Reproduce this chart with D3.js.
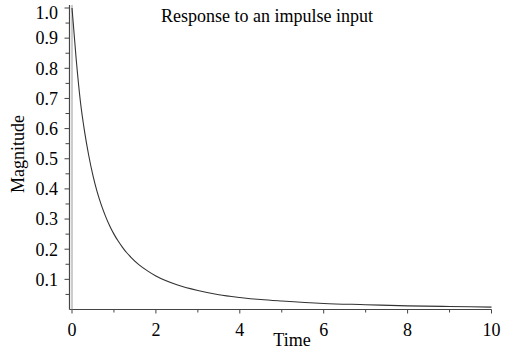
<!DOCTYPE html>
<html>
<head>
<meta charset="utf-8">
<script src="https://cdn.jsdelivr.net/npm/d3@7"></script>
<style>
  html, body { margin: 0; padding: 0; background: #fff; }
  svg text { font-family: "Liberation Serif", "Times New Roman", serif; fill: #000; }
</style>
</head>
<body>
<svg id="chart" width="505" height="351"></svg>
<script>
// Impulse response samples: time and magnitude
const times = [0, 0.1, 0.2, 0.3, 0.4, 0.5, 0.6, 0.7, 0.8, 0.9, 1.0, 1.1, 1.2, 1.3, 1.4, 1.6, 1.8, 2.0,
               2.5, 3.0, 3.5, 4.0, 4.5, 5.0, 6.0, 7.0, 8.0, 9.0, 10.0];
const magnitudes = [1.00, 0.83, 0.69, 0.59, 0.51, 0.444, 0.39, 0.346, 0.309, 0.277, 0.25, 0.227, 0.207, 0.189, 0.174, 0.148, 0.128, 0.111,
                    0.082, 0.063, 0.049, 0.040, 0.033, 0.028, 0.020, 0.016, 0.012, 0.010, 0.008];

const xTickValues = [0, 2, 4, 6, 8, 10];
const xMinorTicks = [1, 3, 5, 7, 9];
const yTickValues = [0.1, 0.2, 0.3, 0.4, 0.5, 0.6, 0.7, 0.8, 0.9, 1.0];
const yMinorTicks = [0.05, 0.15, 0.25, 0.35, 0.45, 0.55, 0.65, 0.75, 0.85, 0.95];

const titleText = "Response to an impulse input";
const xLabel = "Time";
const yLabel = "Magnitude";

const svg = d3.select("#chart");

const x = d3.scaleLinear().domain([0, 10]).range([72, 491.5]);
const y = d3.scaleLinear().domain([0, 1]).range([309.5, 8]);

const axisColor = "#444";
const axisX0 = 69.5;

// x axis
const gx = svg.append("g").attr("transform", `translate(0,${y(0)})`);
gx.append("line").attr("x1", axisX0).attr("x2", x(10)).attr("y1", 0).attr("y2", 0)
  .attr("stroke", axisColor).attr("stroke-width", 1.2);
gx.selectAll(".maj").data(xTickValues).join("line")
  .attr("x1", d => x(d)).attr("x2", d => x(d)).attr("y1", 0).attr("y2", 4)
  .attr("stroke", axisColor);
gx.selectAll(".min").data(xMinorTicks).join("line")
  .attr("x1", d => x(d)).attr("x2", d => x(d)).attr("y1", 0).attr("y2", 3)
  .attr("stroke", axisColor);
gx.selectAll("text").data(xTickValues).join("text")
  .attr("x", d => x(d)).attr("y", 26)
  .attr("text-anchor", "middle").attr("font-size", 18)
  .text(d => d3.format("d")(d));

// y axis
const gy = svg.append("g");
gy.append("line").attr("x1", axisX0).attr("x2", axisX0).attr("y1", y(0)).attr("y2", 5)
  .attr("stroke", axisColor).attr("stroke-width", 1.2);
gy.append("line").attr("x1", x(0)).attr("x2", x(0)).attr("y1", y(0)).attr("y2", 5)
  .attr("stroke", "#999").attr("stroke-width", 1);
gy.selectAll(".maj").data(yTickValues).join("line")
  .attr("x1", axisX0 - 5).attr("x2", axisX0).attr("y1", d => y(d)).attr("y2", d => y(d))
  .attr("stroke", axisColor);
gy.selectAll(".min").data(yMinorTicks).join("line")
  .attr("x1", axisX0 - 4).attr("x2", axisX0).attr("y1", d => y(d)).attr("y2", d => y(d))
  .attr("stroke", axisColor);
// top label is kept inside the drawing area
gy.selectAll("text").data(yTickValues).join("text")
  .attr("x", 58).attr("y", d => Math.max(y(d), 13)).attr("dy", "0.35em")
  .attr("text-anchor", "end").attr("font-size", 18)
  .text(d => d3.format(".1f")(d));

// response curve
const line = d3.line().x((d, i) => x(times[i])).y(d => y(d)).curve(d3.curveMonotoneX);
svg.append("path").datum(magnitudes)
  .attr("d", line).attr("fill", "none")
  .attr("stroke", "#333").attr("stroke-width", 1.1);

// labels
svg.append("text").attr("x", 267).attr("y", 22)
  .attr("text-anchor", "middle").attr("font-size", 18).text(titleText);
svg.append("text").attr("x", 292).attr("y", 346)
  .attr("text-anchor", "middle").attr("font-size", 18).text(xLabel);
svg.append("text").attr("transform", "translate(24,154) rotate(-90)")
  .attr("text-anchor", "middle").attr("font-size", 18).text(yLabel);
</script>
</body>
</html>
